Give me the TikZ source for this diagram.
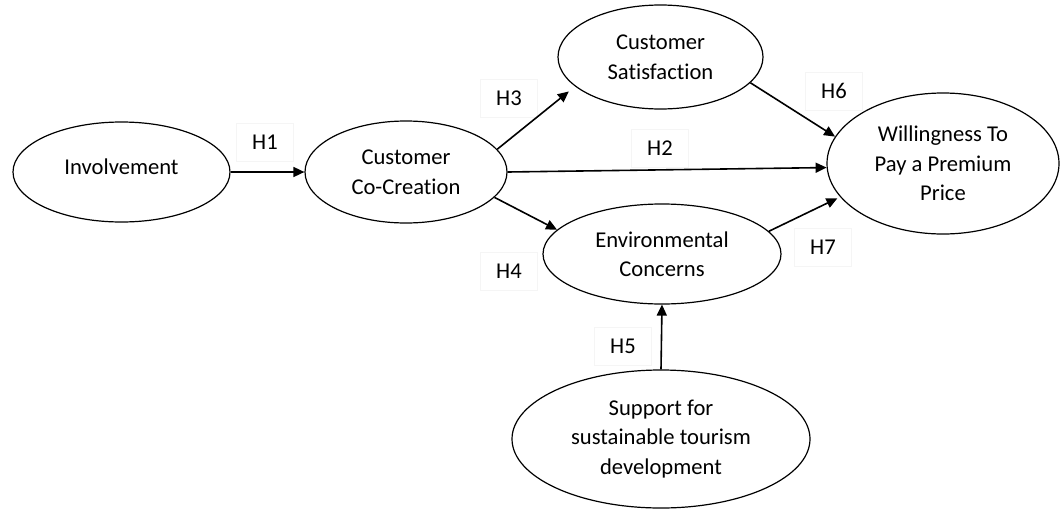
\documentclass[tikz,border=0pt]{standalone}
\usepackage{fontspec}
\setmainfont{Carlito}[Ligatures=NoCommon]
\usetikzlibrary{arrows.meta,shapes.geometric}
\begin{document}
\begin{tikzpicture}[x=1pt,y=-1pt,
  construct/.style={draw=black, line width=1.2pt, ellipse, inner sep=0pt,
    align=center, font=\fontsize{22.6}{29.5}\selectfont},
  hyplabel/.style={draw=black!4, line width=0.6pt, minimum width=57pt,
    minimum height=38pt, inner sep=0pt, font=\fontsize{22.6}{26}\selectfont},
  hyparrow/.style={line width=1.6pt, -{Triangle[length=11pt,width=10pt]}}]
\useasboundingbox (0,0) rectangle (1060,509);

% constructs
\node[construct, minimum width=217pt, minimum height=100pt] (inv) at (121.5,172)
  {\raisebox{11pt}{Involvement}};
\node[construct, minimum width=202pt, minimum height=102pt] (cc) at (406,172)
  {Customer\\Co-Creation};
\node[construct, minimum width=205pt, minimum height=104pt] (cs) at (660.5,57)
  {Customer\\Satisfaction};
\node[construct, minimum width=232pt, minimum height=141pt] (wp) at (943,163.5)
  {Willingness To\\Pay a Premium\\Price};
\node[construct, minimum width=238pt, minimum height=100pt] (ec) at (662,254)
  {Environmental\\Concerns};
\node[construct, minimum width=298pt, minimum height=138pt] (sp) at (661,439)
  {Support for\\sustainable tourism\\development};

% hypothesis labels
\node[hyplabel] (h1) at (265,142) {H1};
\node[hyplabel] (h2) at (660,148) {H2};
\node[hyplabel] (h3) at (509,98) {H3};
\node[hyplabel] (h4) at (509,271) {H4};
\node[hyplabel] (h5) at (623,346) {H5};
\node[hyplabel] (h6) at (834,91) {H6};
\node[hyplabel] (h7) at (823,247) {H7};

% structural paths
\draw[hyparrow] (inv.east) -- (cc.west);
\draw[hyparrow] (cc.east) -- (wp.182);
\draw[hyparrow, shorten >=8pt] (cc.14) -- (cs.199);
\draw[hyparrow] (cc.-16) -- (ec.167);
\draw[hyparrow] (cs.-16) -- (wp.166);
\draw[hyparrow, shorten >=3pt] (ec.12) -- (wp.198);
\draw[hyparrow] (sp.north) -- (ec.south);
\end{tikzpicture}
\end{document}
